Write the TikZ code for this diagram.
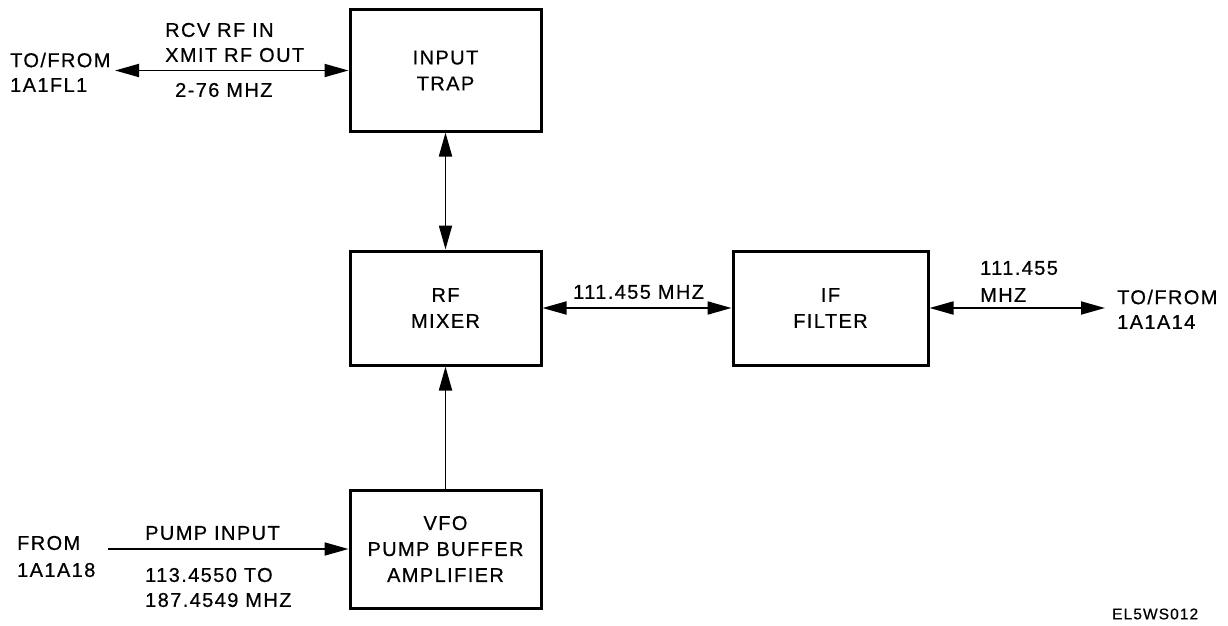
\documentclass[tikz,border=0pt]{standalone}
\usepackage{fontspec}
\setmainfont{Liberation Sans}[LetterSpace=7,FakeBold=0.6]
\usetikzlibrary{arrows.meta}
\begin{document}
\begin{tikzpicture}[x=1pt,y=-1pt,
  blk/.style={draw,line width=3pt,minimum width=191pt,inner sep=0pt,align=center,
    font=\fontsize{20}{26}\selectfont},
  lbl/.style={anchor=west,inner sep=0pt,font=\fontsize{20}{26}\selectfont},
  conn/.style={line width=1.8pt,-{Triangle[length=24pt,width=13pt]}},
  bconn/.style={line width=1.8pt,{Triangle[length=24pt,width=13pt]}-{Triangle[length=24pt,width=13pt]}}]
\useasboundingbox (0,0) rectangle (1228,626);
% blocks
\node[blk,minimum height=121pt] (trap) at (445.5,70.5) {INPUT\\TRAP};
\node[blk,minimum height=114pt] (mixer) at (445.5,308) {RF\\MIXER};
\node[blk,minimum width=195pt,minimum height=114pt] (filter) at (830.5,308) {IF\\FILTER};
\node[blk,minimum height=118pt] (vfo) at (445.5,549) {VFO\\PUMP BUFFER\\AMPLIFIER};
% free ends
\coordinate (lend) at (115,70.5);
\coordinate (rend) at (1105,308);
\coordinate (pin) at (108,549);
% connectors
\draw[bconn] (lend) -- (trap.west);
\draw[bconn] (trap.south) -- (mixer.north);
\draw[conn] (vfo.north) -- (mixer.south);
\draw[bconn] (mixer.east) -- (filter.west);
\draw[bconn] (filter.east) -- (rend);
\draw[conn] (pin) -- (pin -| vfo.west);
% labels
\node[lbl] (t1) at (10,60) {TO/FROM};
\node[lbl] (t2) at (10,85) {1A1FL1};
\node[lbl] (t3) at (165,30) {RCV RF IN};
\node[lbl] (t4) at (165,55) {XMIT RF OUT};
\node[lbl] (t5) at (175,90) {2-76 MHZ};
\node[lbl] (t6) at (573,292) {111.455 MHZ};
\node[lbl] (t7) at (980,268) {111.455};
\node[lbl] (t8) at (980,295) {MHZ};
\node[lbl] (t9) at (1117,297) {TO/FROM};
\node[lbl] (t10) at (1117,322) {1A1A14};
\node[lbl] (t11) at (17,543) {FROM};
\node[lbl] (t12) at (17,570) {1A1A18};
\node[lbl] (t13) at (145,533) {PUMP INPUT};
\node[lbl] (t14) at (145,575) {113.4550 TO};
\node[lbl] (t15) at (145,600) {187.4549 MHZ};
\node[lbl,font=\fontsize{15.5}{18}\selectfont] (t16) at (1112,614) {EL5WS012};
\end{tikzpicture}
\end{document}
